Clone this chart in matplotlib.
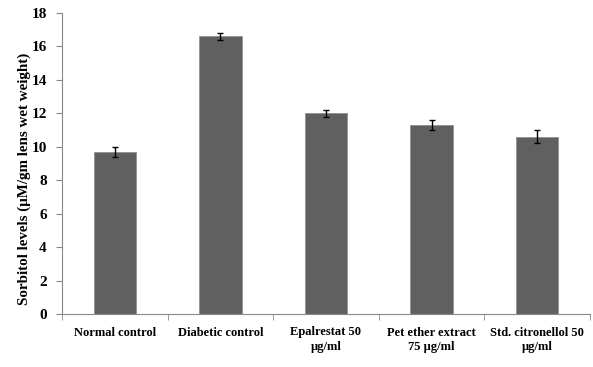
import matplotlib
matplotlib.use("Agg")
import matplotlib.pyplot as plt
import numpy as np

categories = ["Normal control", "Diabetic control", "Epalrestat 50\nμg/ml",
              "Pet ether extract\n75 μg/ml", "Std. citronellol 50\nμg/ml"]
values = [9.7, 16.6, 12.0, 11.3, 10.6]
errors = [0.3, 0.2, 0.2, 0.3, 0.4]
yticks = [0, 2, 4, 6, 8, 10, 12, 14, 16, 18]

plt.rcParams['font.family'] = ['Liberation Serif', 'DejaVu Serif']
plt.rcParams['font.weight'] = 'bold'

fig = plt.figure(figsize=(5.93, 3.67), dpi=100)
ax = fig.add_axes([62/593, 1-314/367, (590-62)/593, (314-13)/367])
x = np.arange(len(categories))
ax.bar(x, values, width=0.4, color='#606060', edgecolor='#909090', linewidth=0.6,
       yerr=errors, capsize=2.5, error_kw=dict(ecolor='black', elinewidth=1, capthick=1))
ax.set_xlim(-0.5, len(categories) - 0.5)
ax.set_ylim(0, 18)
ax.set_yticks(yticks)
ax.set_yticklabels([str(t) for t in yticks], fontsize=11, fontweight='bold')
ax.set_xticks(x)
ax.set_xticklabels(categories, fontsize=9, fontweight='bold', linespacing=1.3)
ax.set_xticks(np.arange(-0.5, len(categories)), minor=True)
ax.tick_params(axis='x', which='major', length=0, pad=9)
ax.tick_params(axis='x', which='minor', length=4, color='#888888')
ax.tick_params(axis='y', length=4, color='#888888', pad=7)
for s in ['top', 'right']:
    ax.spines[s].set_visible(False)
for s in ['left', 'bottom']:
    ax.spines[s].set_color('#888888')
ax.set_ylabel("Sorbitol levels (μM/gm lens wet weight)", fontsize=10.8, fontweight='bold')
ax.yaxis.set_label_coords(-0.058, 0.45)
fig.savefig("out.png", dpi=100)
